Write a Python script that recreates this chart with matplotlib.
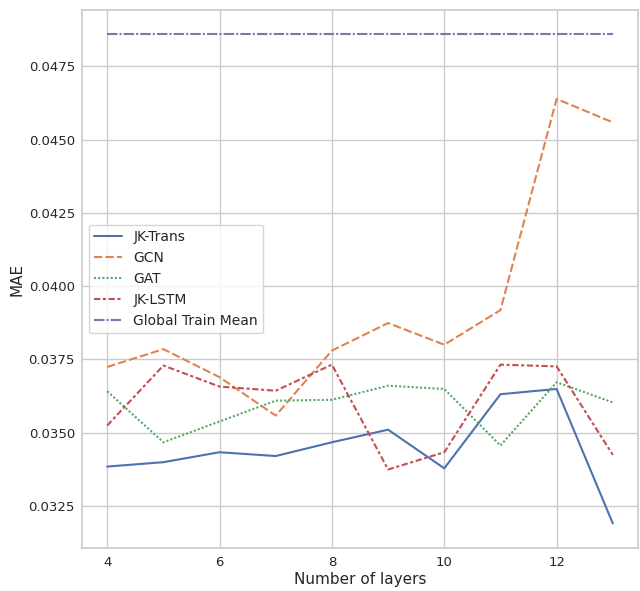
import matplotlib
matplotlib.use('Agg')
import matplotlib.pyplot as plt
import seaborn as sns
import pandas as pd

layers = [4, 5, 6, 7, 8, 9, 10, 11, 12, 13]
jk_trans = [0.03384, 0.03399, 0.03433, 0.03420, 0.03467, 0.03510, 0.03378, 0.03631, 0.03649, 0.03190]
gcn = [0.03724, 0.03785, 0.03689, 0.03558, 0.03780, 0.03874, 0.03800, 0.03918, 0.04639, 0.04559]
gat = [0.03641, 0.03467, 0.03538, 0.03609, 0.03612, 0.03660, 0.03649, 0.03456, 0.03672, 0.03603]
jk_lstm = [0.03524, 0.03729, 0.03657, 0.03643, 0.03732, 0.03374, 0.03433, 0.03732, 0.03726, 0.03424]
global_mean = 0.04859

series = {
    'JK-Trans': jk_trans,
    'GCN': gcn,
    'GAT': gat,
    'JK-LSTM': jk_lstm,
    'Global Train Mean': [global_mean] * len(layers),
}

rows = []
for name, vals in series.items():
    for x, v in zip(layers, vals):
        rows.append({'Number of layers': x, 'MAE': v, 'model': name})
df = pd.DataFrame(rows)

sns.set_style('whitegrid')
sns.set_context('notebook')
plt.rcParams['font.family'] = ['DejaVu Sans']

fig, ax = plt.subplots(figsize=(6.4, 5.91), dpi=100)
sns.lineplot(data=df, x='Number of layers', y='MAE', hue='model', style='model',
             palette='deep', ax=ax)

ax.legend(loc='center left', fontsize=10)
ax.tick_params(labelsize=9.5, length=0)
ax.tick_params(axis='y', pad=5)
ax.tick_params(axis='x', pad=6)
ax.set_xlabel('Number of layers', fontsize=11, labelpad=2)
ax.set_ylabel('MAE', fontsize=11, labelpad=3)

plt.subplots_adjust(left=0.128, right=0.997, top=0.983, bottom=0.073)
plt.savefig('out.png', dpi=100, facecolor='white')
